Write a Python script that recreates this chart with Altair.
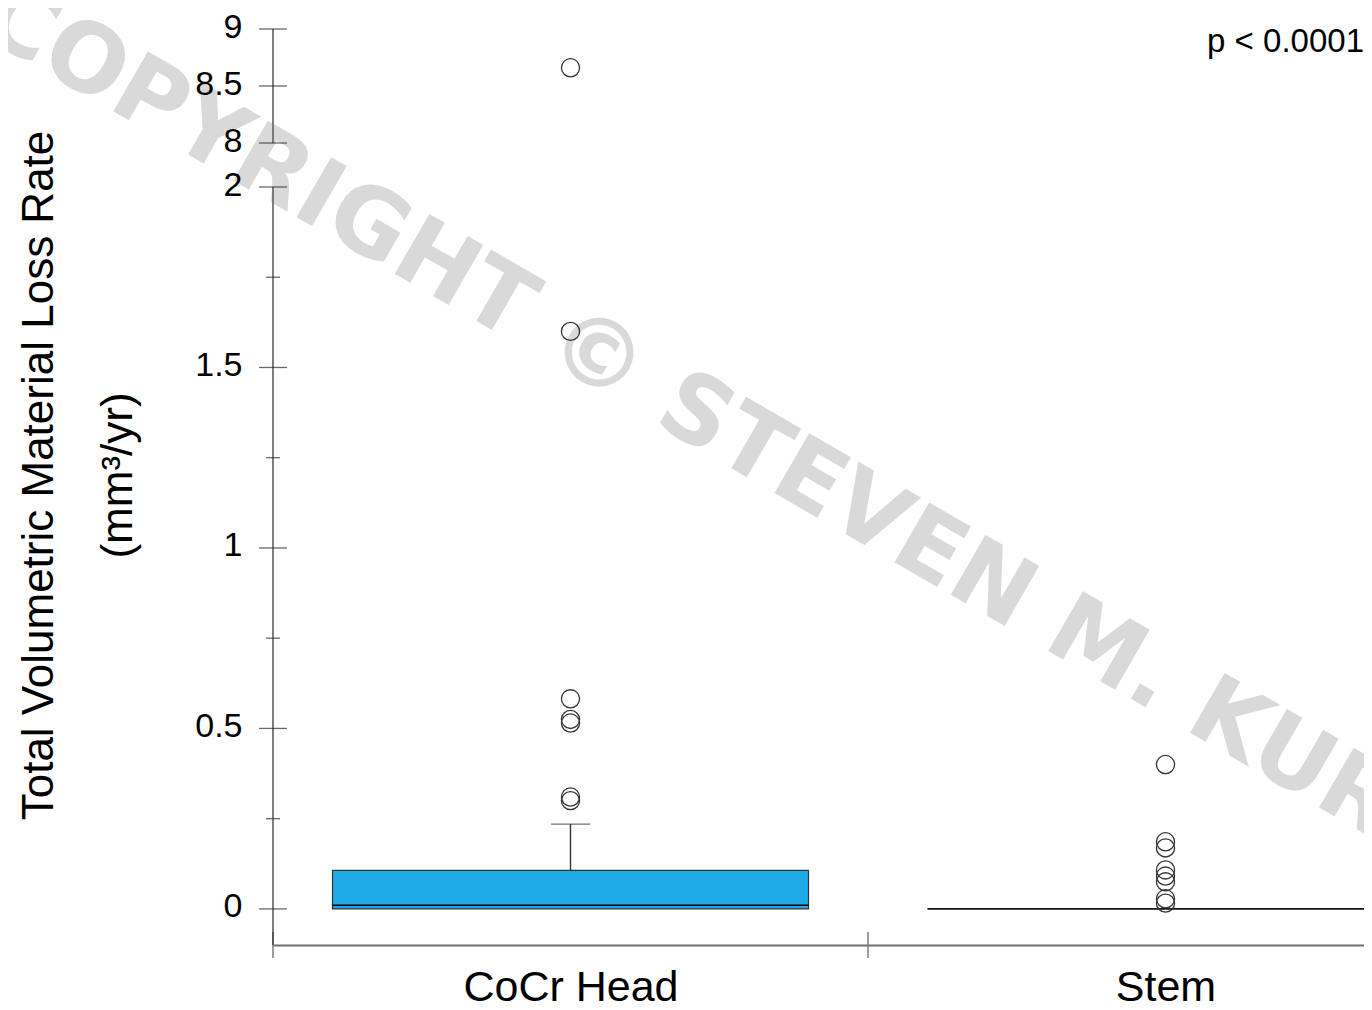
import json
import altair as alt
import pandas as pd

# ---------------- data ----------------
categories = ["CoCr Head", "Stem"]
q1 = [0.0, 0.0]
median = [0.010, 0.0]
q3 = [0.107, 0.0]
whisker_high = [0.235, 0.0]
cocr_outliers = [8.66, 1.60, 0.582, 0.525, 0.515, 0.31, 0.30]
stem_outliers = [0.40, 0.186, 0.169, 0.108, 0.091, 0.075, 0.028, 0.016]

lower_major_ticks = [0, 0.5, 1, 1.5, 2]
lower_minor_ticks = [0.25, 0.75, 1.25, 1.75]
upper_major_ticks = [8, 8.5, 9]
category_bounds = [0, 1, 2]
lower_domain = [-0.1, 2]
upper_domain = [8, 9]

y_title = ["Total Volumetric Material Loss Rate", "(mm\u00b3/yr)"]
p_label = ["p < 0.0001"]
watermark = ["COPYRIGHT \u00a9 STEVEN M. KURTZ"]

# ---------------- layout constants ----------------
W, H = 1091, 916
PX_PER_CAT = 595
XMAX = W / PX_PER_CAT
LOWER_RANGE = [H, 158]
UPPER_RANGE = [114, 0]
FONT = "Liberation Sans"
BOX_W = 0.8

# ---------------- tables ----------------
pos = [i + 0.5 for i in range(len(categories))]
box_df = pd.DataFrame({
    "cat": categories, "pos": pos, "q1": q1, "median": median, "q3": q3,
    "whi": whisker_high,
})
box_df["x0"] = box_df["pos"] - BOX_W / 2
box_df["x1"] = box_df["pos"] + BOX_W / 2
whisk_df = box_df[box_df["whi"] > box_df["q3"]]

out_rows = []
for p, vals in zip(pos, [cocr_outliers, stem_outliers]):
    for v in vals:
        out_rows.append({"pos": p, "value": v})
out_df = pd.DataFrame(out_rows)
out_low = out_df[out_df["value"] <= lower_domain[1]]
out_up = out_df[out_df["value"] >= upper_domain[0]]

low_major_df = pd.DataFrame({"x": 0, "y": lower_major_ticks})
low_minor_df = pd.DataFrame({"x": 0, "y": lower_minor_ticks})
up_major_df = pd.DataFrame({"x": 0, "y": upper_major_ticks})
cat_tick_df = pd.DataFrame({"x": category_bounds, "y": lower_domain[0]})
low_dom_df = pd.DataFrame({"x": [0], "y": [lower_domain[0]], "y2": [lower_domain[1]]})
up_dom_df = pd.DataFrame({"x": [0], "y": [upper_domain[0]], "y2": [upper_domain[1]]})
wm_df = pd.DataFrame({"x": [-0.5], "y": [2.43], "t": watermark})
p_df = pd.DataFrame({"x": [XMAX], "y": [8.80], "t": p_label})

# ---------------- scales / axes ----------------
x_scale = alt.Scale(domain=[0, XMAX], nice=False, zero=False)
x_axis = alt.Axis(
    values=pos,
    labelExpr=f"{json.dumps(categories)}[floor(datum.value)]",
    ticks=False, tickSize=0, grid=False,
    domain=True, domainColor="#707070", domainWidth=1.8,
    labelFont=FONT, labelFontSize=43, labelColor="black", labelLimit=600,
    labelPadding=21, labelFlush=False, title=None, zindex=1,
)
low_scale = alt.Scale(domain=lower_domain, range=LOWER_RANGE, nice=False, zero=False)
low_axis = alt.Axis(
    orient="left", values=lower_major_ticks, labelExpr="datum.value + ''",
    ticks=False, tickSize=0, domain=False, grid=False,
    labelFont=FONT, labelFontSize=34, labelColor="black",
    labelPadding=31, labelOffset=-2,
    title=y_title, titleFont=FONT, titleFontSize=44, titleFontWeight="normal",
    titleColor="black", titleAngle=270, titleX=52 - 273, titleY=475 - 29,
    titleAlign="center", titleBaseline="alphabetic", titleLineHeight=79,
    titleLimit=1000, zindex=1,
)
up_scale = alt.Scale(domain=upper_domain, range=UPPER_RANGE, nice=False, zero=False)
up_axis = alt.Axis(
    orient="left", values=upper_major_ticks, labelExpr="datum.value + ''",
    ticks=False, tickSize=0, domain=False, grid=False,
    labelFont=FONT, labelFontSize=34, labelColor="black",
    labelPadding=31, labelOffset=-2, title=None, zindex=1,
)


def X(f):
    return alt.X(f, type="quantitative", scale=x_scale, axis=x_axis)


def YL(f):
    return alt.Y(f, type="quantitative", scale=low_scale, axis=low_axis)


def YU(f):
    return alt.Y(f, type="quantitative", scale=up_scale, axis=up_axis)


TICK_C = "#2a2a2a"
AX_C = "#707070"

# ---------------- lower segment ----------------
wm = alt.Chart(wm_df).mark_text(
    font="DejaVu Sans", fontWeight="bold", fontSize=95, color="#d9d9d9",
    angle=30, align="left", baseline="alphabetic",
).encode(x=X("x"), y=YL("y"), text="t:N")

low_dom = alt.Chart(low_dom_df).mark_rule(color=AX_C, strokeWidth=1.8).encode(
    x=X("x"), y=YL("y"), y2="y2")
low_major = alt.Chart(low_major_df).mark_tick(
    orient="horizontal", size=28, thickness=1.3, color=TICK_C).encode(x=X("x"), y=YL("y"))
low_minor = alt.Chart(low_minor_df).mark_tick(
    orient="horizontal", size=14, thickness=1.3, color=TICK_C).encode(x=X("x"), y=YL("y"))
cat_ticks = alt.Chart(cat_tick_df).mark_tick(
    orient="vertical", size=26, thickness=1.3, color=TICK_C).encode(x=X("x"), y=YL("y"))

box = alt.Chart(box_df).mark_rect(
    fill="#1eaae7", stroke="#333333", strokeWidth=1.2, clip=True).encode(
    x=X("x0"), x2="x1", y=YL("q1"), y2="q3")
med = alt.Chart(box_df).mark_rule(color="black", strokeWidth=1.4, clip=True).encode(
    x=X("x0"), x2="x1", y=YL("median"))
whisk = alt.Chart(whisk_df).mark_rule(color="#333333", strokeWidth=1.4).encode(
    x=X("pos"), y=YL("q3"), y2="whi")
cap = alt.Chart(whisk_df).mark_tick(
    orient="horizontal", size=39, thickness=1.4, color="#333333").encode(
    x=X("pos"), y=YL("whi"))
pts_low = alt.Chart(out_low).mark_point(
    shape="circle", filled=False, size=330, color="#333333", strokeWidth=1.3,
    opacity=1).encode(x=X("pos"), y=YL("value"))

lower = alt.layer(wm, low_dom, low_major, low_minor, cat_ticks, box, med,
                  whisk, cap, pts_low)

# ---------------- upper segment ----------------
up_dom = alt.Chart(up_dom_df).mark_rule(color=AX_C, strokeWidth=1.8).encode(
    x=X("x"), y=YU("y"), y2="y2")
up_major = alt.Chart(up_major_df).mark_tick(
    orient="horizontal", size=28, thickness=1.3, color=TICK_C).encode(x=X("x"), y=YU("y"))
pts_up = alt.Chart(out_up).mark_point(
    shape="circle", filled=False, size=330, color="#333333", strokeWidth=1.3,
    opacity=1).encode(x=X("pos"), y=YU("value"))
ptxt = alt.Chart(p_df).mark_text(
    font=FONT, fontSize=33, color="black", align="right", baseline="alphabetic").encode(
    x=X("x"), y=YU("y"), text="t:N")

upper = alt.layer(up_dom, up_major, pts_up, ptxt)

chart = alt.layer(lower, upper).resolve_scale(y="independent").properties(
    width=W, height=H,
    autosize=alt.AutoSizeParams(type="none"),
    padding={"left": 265, "top": 21, "right": 0, "bottom": 60},
).configure_view(stroke=None).configure_axis(grid=False)

chart.save("out.html", embed_options={"renderer": "svg", "actions": False})
